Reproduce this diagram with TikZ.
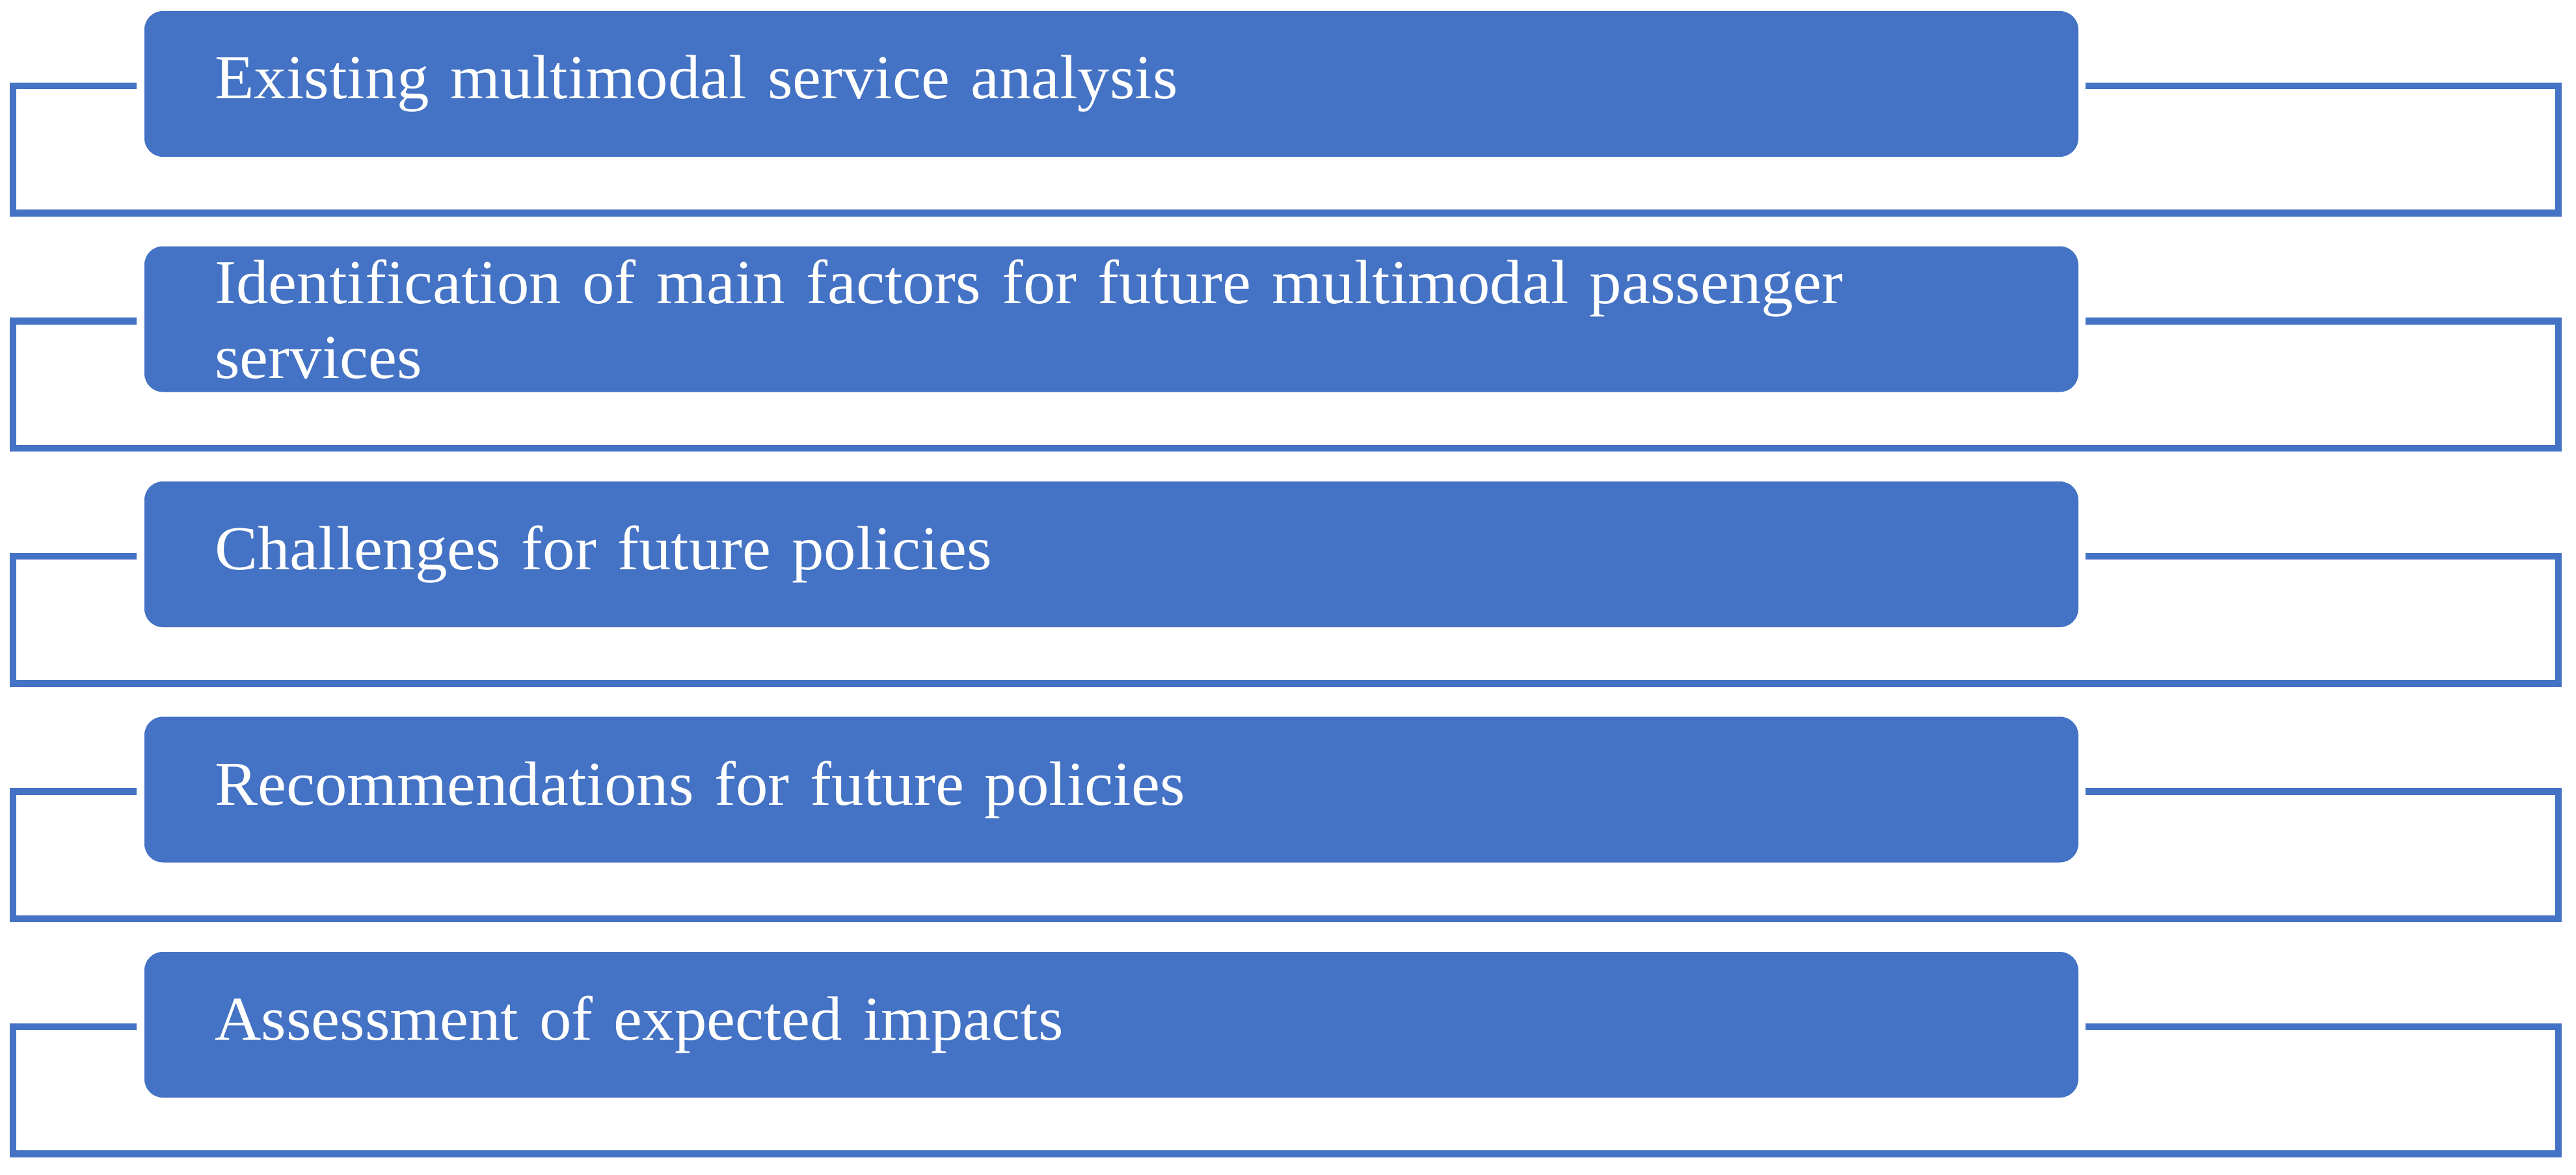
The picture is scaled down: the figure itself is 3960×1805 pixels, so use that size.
\documentclass[tikz,border=0pt]{standalone}
\usepackage{fontspec}
\setmainfont{Liberation Serif}[FakeStretch=1.03, WordSpace=0.85]
\definecolor{boxblue}{HTML}{4472C4}
\tikzset{
  stepbox/.style={fill=boxblue, draw=boxblue, line width=1pt, rounded corners=28pt,
    minimum width=2972pt, minimum height=223pt, text width=2756pt, inner xsep=108pt,
    inner ysep=0pt, align=left, anchor=north west, text=white,
    font=\fontsize{96}{115}\selectfont},
  bracket/.style={draw=boxblue, line width=10.5pt, line join=miter}
}
\begin{document}
\begin{tikzpicture}[x=1pt,y=-1pt]
\useasboundingbox (0,0) rectangle (3960,1805);
\foreach \i/\txt in {0/{Existing multimodal service analysis},
  1/{Identification of main factors for future multimodal passenger\\services},
  2/{Challenges for future policies},
  3/{Recommendations for future policies},
  4/{Assessment of expected impacts}}{
  \pgfmathsetmacro{\yb}{17+361.5*\i}
  \pgfmathsetmacro{\yt}{132+361.5*\i}
  \pgfmathsetmacro{\yl}{327.5+361.5*\i}
  \node[stepbox] (b\i) at (222,\yb) {\txt};
  \coordinate (l\i) at ([xshift=-12pt]b\i.west |- 0,\yt);
  \coordinate (r\i) at ([xshift=11pt]b\i.east |- 0,\yt);
  \coordinate (lc\i) at (20,\yt);
  \coordinate (ld\i) at (20,\yl);
  \coordinate (rd\i) at (3933,\yl);
  \coordinate (rc\i) at (3933,\yt);
  \draw[bracket] (l\i) -- (lc\i) -- (ld\i) -- (rd\i) -- (rc\i) -- (r\i);
}
\end{tikzpicture}
\end{document}
